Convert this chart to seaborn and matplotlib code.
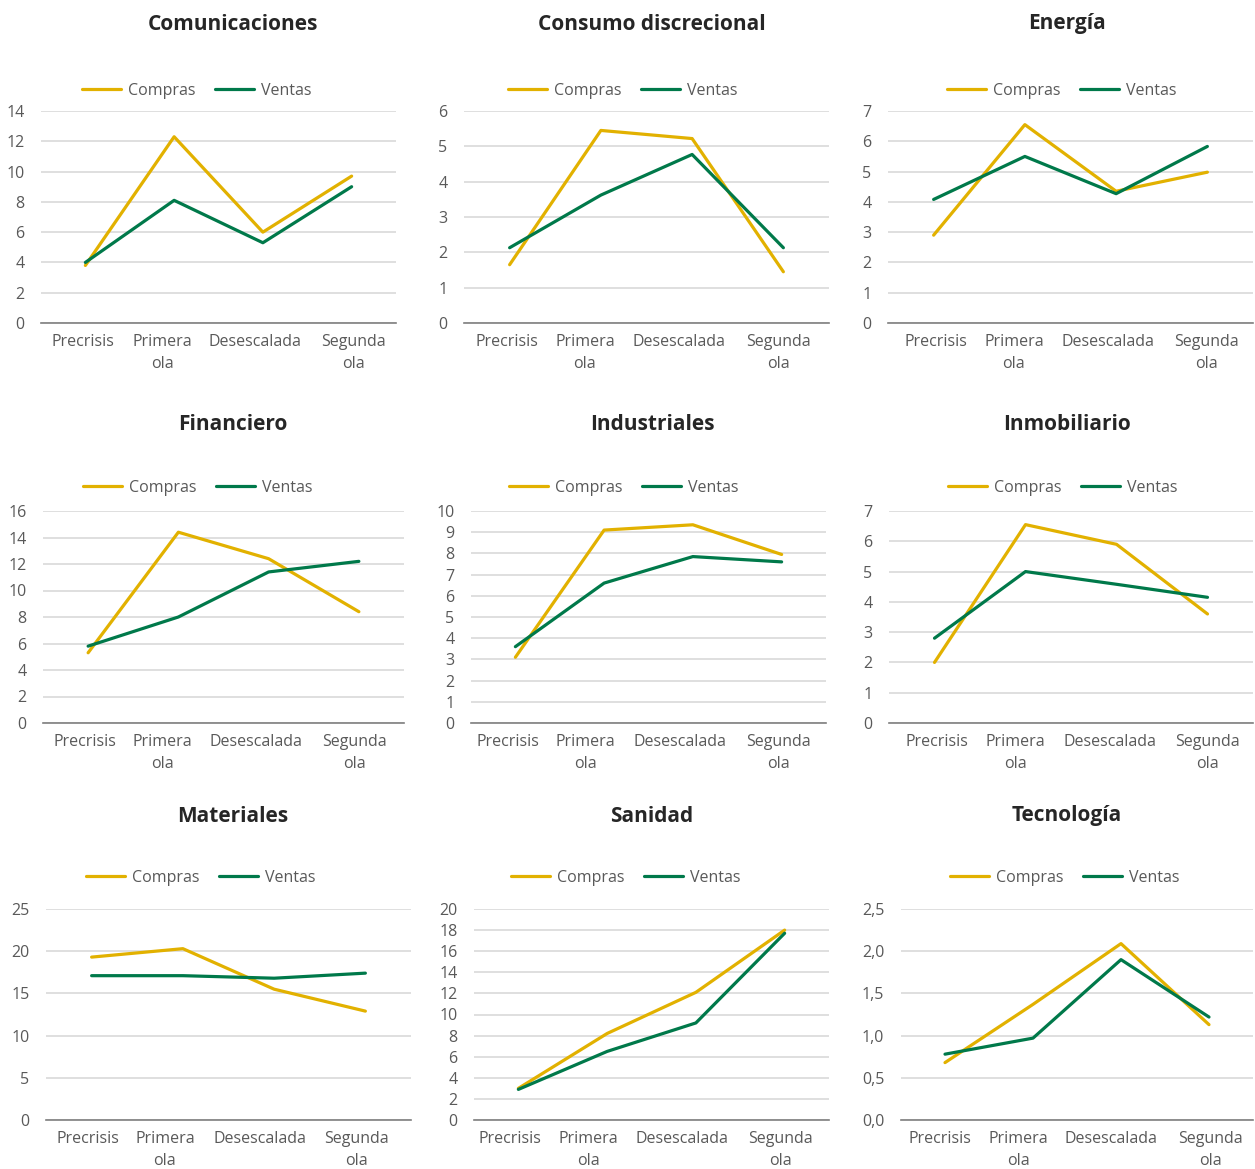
import matplotlib
matplotlib.use("Agg")
import matplotlib.pyplot as plt
import matplotlib.transforms as mtransforms
from matplotlib.lines import Line2D
from matplotlib.ticker import FuncFormatter
import seaborn as sns
import pandas as pd

# ---- data ----
periodos = ["Precrisis", "Primera\nola", "Desescalada", "Segunda\nola"]
sectores = ["Comunicaciones", "Consumo discrecional", "Energía",
            "Financiero", "Industriales", "Inmobiliario",
            "Materiales", "Sanidad", "Tecnología"]

compras_comunicaciones = [3.8, 12.3, 6.0, 9.7]
ventas_comunicaciones = [4.0, 8.1, 5.3, 9.0]
compras_consumo = [1.65, 5.45, 5.22, 1.45]
ventas_consumo = [2.13, 3.62, 4.77, 2.13]
compras_energia = [2.9, 6.55, 4.35, 4.98]
ventas_energia = [4.08, 5.5, 4.27, 5.83]
compras_financiero = [5.3, 14.4, 12.4, 8.4]
ventas_financiero = [5.8, 8.0, 11.4, 12.2]
compras_industriales = [3.1, 9.1, 9.35, 7.95]
ventas_industriales = [3.6, 6.6, 7.85, 7.6]
compras_inmobiliario = [2.0, 6.55, 5.9, 3.6]
ventas_inmobiliario = [2.8, 5.0, 4.58, 4.15]
compras_materiales = [19.3, 20.3, 15.5, 12.9]
ventas_materiales = [17.1, 17.1, 16.8, 17.4]
compras_sanidad = [3.0, 8.2, 12.1, 18.0]
ventas_sanidad = [2.9, 6.5, 9.2, 17.7]
compras_tecnologia = [0.68, 1.37, 2.09, 1.13]
ventas_tecnologia = [0.78, 0.97, 1.9, 1.22]

compras = [compras_comunicaciones, compras_consumo, compras_energia,
           compras_financiero, compras_industriales, compras_inmobiliario,
           compras_materiales, compras_sanidad, compras_tecnologia]
ventas = [ventas_comunicaciones, ventas_consumo, ventas_energia,
          ventas_financiero, ventas_industriales, ventas_inmobiliario,
          ventas_materiales, ventas_sanidad, ventas_tecnologia]

y_max = [14, 6, 7, 16, 10, 7, 25, 20, 2.5]
y_step = [2, 1, 1, 2, 1, 1, 5, 2, 0.5]

# ---- style ----
sns.set_style("white")
plt.rcParams["font.family"] = ["Open Sans", "DejaVu Sans"]
TXT = "#595959"
C_COMPRAS = "#E2B100"
C_VENTAS = "#00794A"

W, H = 1255, 1169
fig = plt.figure(figsize=(W / 100, H / 100), dpi=100)

# pixel layout
cols_x = [
    [(41, 396), (464, 829), (888, 1253)],
    [(43, 404), (471, 826), (889, 1253)],
    [(46, 411), (474, 829), (901, 1253)],
]
rows_y = [(111, 323), (511, 723), (909, 1120)]
title_x = [233, 652, 1067]
title_y = [24, 424, 816]
legend_cx = [[197, 623, 1062], [198, 624, 1063], [201, 626, 1065]]
legend_y = [91, 488, 878]
# horizontal pixel offsets of the category labels, per panel (as drawn in the original)
label_shift = [
    [-2, -12, -8, 2], [-3, -16, -13, -5], [2, -11, -8, -1],
    [-3, -16, -13, -4], [-7, -19, -13, -3], [2, -10, -7, 0],
    [-4, -18, -14, -9], [-8, -19, -14, -4], [-5, -15, -10, 1],
]

for i, sector in enumerate(sectores):
    r, c = divmod(i, 3)
    x0, x1 = cols_x[r][c]
    yt, yb = rows_y[r]
    ax = fig.add_axes([x0 / W, 1 - yb / H, (x1 - x0) / W, (yb - yt) / H])

    df = pd.DataFrame({
        "periodo": list(range(4)) * 2,
        "valor": compras[i] + ventas[i],
        "serie": ["Compras"] * 4 + ["Ventas"] * 4,
    })
    sns.lineplot(data=df, x="periodo", y="valor", hue="serie",
                 palette={"Compras": C_COMPRAS, "Ventas": C_VENTAS},
                 linewidth=2.3, ax=ax, legend=False)

    ax.set_xlim(-0.5, 3.5)
    ax.set_ylim(0, y_max[i])
    n = int(round(y_max[i] / y_step[i]))
    ax.set_yticks([k * y_step[i] for k in range(n + 1)])
    if y_step[i] < 1:
        ax.yaxis.set_major_formatter(FuncFormatter(lambda v, p: f"{v:.1f}".replace(".", ",")))
    else:
        ax.yaxis.set_major_formatter(FuncFormatter(lambda v, p: f"{int(round(v))}"))
    ax.set_xticks(range(4))
    ax.set_xticklabels(periodos, linespacing=1.45)
    ax.set_xlabel("")
    ax.set_ylabel("")
    ax.grid(axis="y", color="#D9D9D9", linewidth=1.2)
    ax.set_axisbelow(True)
    for s in ["top", "right", "left"]:
        ax.spines[s].set_visible(False)
    ax.spines["bottom"].set_color("#7F7F7F")
    ax.spines["bottom"].set_linewidth(1.2)
    ax.tick_params(axis="both", length=0, labelsize=11.5, colors=TXT)
    ax.tick_params(axis="y", pad=12)
    ax.tick_params(axis="x", pad=8)
    for lab, dx in zip(ax.get_xticklabels(), label_shift[i]):
        lab.set_transform(lab.get_transform() +
                          mtransforms.ScaledTranslation(dx / 100, 0, fig.dpi_scale_trans))

    handles = [Line2D([], [], color=C_COMPRAS, linewidth=2.3),
               Line2D([], [], color=C_VENTAS, linewidth=2.3)]
    ax.legend(handles, ["Compras", "Ventas"], loc="center", ncol=2,
              bbox_to_anchor=(legend_cx[r][c] / W, 1 - legend_y[r] / H),
              bbox_transform=fig.transFigure, frameon=False,
              fontsize=11.5, labelcolor=TXT, handlelength=2.45,
              handletextpad=0.45, columnspacing=1.2)

    fig.text(title_x[c] / W, 1 - title_y[r] / H, sector, ha="center", va="center",
             fontsize=15, fontweight="bold", color="#262626")

fig.savefig("out.png", dpi=100)
